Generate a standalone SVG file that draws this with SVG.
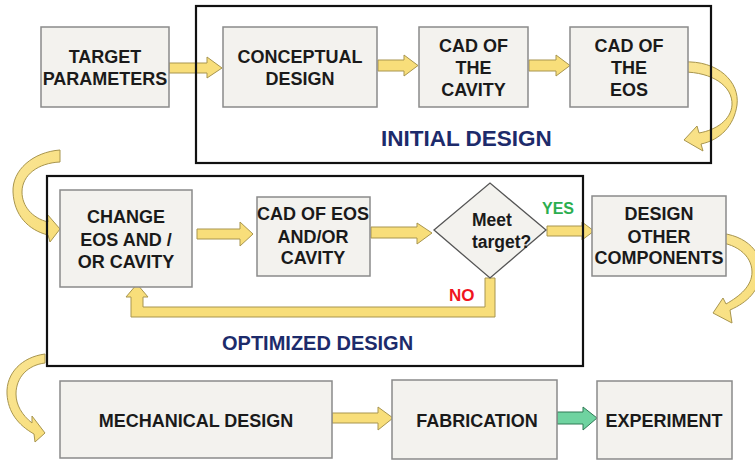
<svg xmlns="http://www.w3.org/2000/svg" width="755" height="461" viewBox="0 0 755 461">
<defs>
<style>
.box{fill:#F3F2EE;stroke:#8a8a8a;stroke-width:1.5}
.frame{fill:none;stroke:#111;stroke-width:2.2}
.t{font-family:"Liberation Sans",Arial,sans-serif;font-weight:bold;font-size:18px;fill:#1a1a1a;text-anchor:middle}
.big{font-family:"Liberation Sans",Arial,sans-serif;font-weight:bold;font-size:20px;fill:#1D2B6B}
.ya{fill:#F8DE7A;stroke:#A8954E;stroke-width:1}
.ga{fill:#6FD3A0;stroke:#2E7A55;stroke-width:1}
.curve{fill:url(#cg);stroke:#A8954E;stroke-width:1}
</style>
<linearGradient id="cg" x1="0" y1="0" x2="1" y2="1">
<stop offset="0" stop-color="#F8DE7A" stop-opacity="0.8"/>
<stop offset="1" stop-color="#F8DE7A" stop-opacity="1"/>
</linearGradient>
</defs>
<rect width="755" height="461" fill="#fff"/>

<g id="connectors">
<polygon class="ya" points="169,63 207,63 207,57 222,68 207,78 207,73 169,73"/>
<polygon class="ya" points="378,60 404,60 404,55 418,65.5 404,76 404,71 378,71"/>
<polygon class="ya" points="529,60 556,60 556,55 570,65.5 556,76 556,71 529,71"/>
<path class="curve" d="M683,62 C718,60 740,82 737,105 C734,126 720,140 701,144 L703,151 L684,140 L697,126 L699,133 C716,130 731,120 732,105 C733,86 712,72 683,72 Z"/>
<path class="curve" d="M60,150 C33,152 12,170 13,192 C14,215 28,230 48,235 L50,242 L60,229 L47,214 L48,222 C32,218 22,206 22,192 C22,175 38,163 60,162 Z"/>
<polygon class="ya" points="197,229 240,229 240,222 253,234 240,246 240,239 197,239"/>
<polygon class="ya" points="371,227 417,227 417,223 432,233 417,244 417,238 371,238"/>
<polygon class="ya" points="547,226 582,226 582,222 594,231 582,240 582,236 547,236"/>
<polygon class="ya" points="485,278 495,278 495,317 131,317 131,297 126,297 137,284 148,297 143,297 143,307 485,307"/>
<path class="curve" d="M712,233 C742,232 763,250 761,272 C759,291 748,302 730,310 L732,323 L713,313 L723,298 L726,304 C740,296 752,286 752,272 C752,255 735,242 712,242 Z"/>
<path class="curve" d="M45,354 C22,357 6,373 7,394 C8,412 18,425 34,434 L35,442 L45,433 L32,416 L32,423 C22,415 16,405 16,394 C16,377 28,365 45,363 Z"/>
<polygon class="ya" points="332,413 378,413 378,407 393,418 378,430 378,423 332,423"/>
<polygon class="ga" points="557,412 583,412 583,407 597,418 583,430 583,424 557,424"/>
</g>

<g id="initial-design">
<rect class="frame" x="196" y="6" width="515" height="157"/>
<text class="big" x="381" y="146" style="font-size:22.5px">INITIAL DESIGN</text>
</g>
<g id="optimized-design">
<rect class="frame" x="47" y="176" width="536" height="190"/>
<text class="big" x="222" y="350">OPTIMIZED DESIGN</text>
</g>

<g id="target">
<rect class="box" x="41" y="27" width="128" height="80"/>
<text class="t" x="105" y="63">TARGET</text>
<text class="t" x="105" y="85">PARAMETERS</text>
</g>
<g id="conceptual">
<rect class="box" x="223" y="27" width="154" height="80"/>
<text class="t" x="300" y="63">CONCEPTUAL</text>
<text class="t" x="300" y="85">DESIGN</text>
</g>
<g id="cad-cavity">
<rect class="box" x="419" y="27" width="109" height="80"/>
<text class="t" x="473.5" y="52">CAD OF</text>
<text class="t" x="473.5" y="74">THE</text>
<text class="t" x="473.5" y="96">CAVITY</text>
</g>
<g id="cad-eos">
<rect class="box" x="570" y="27" width="118" height="80"/>
<text class="t" x="629" y="52">CAD OF</text>
<text class="t" x="629" y="74">THE</text>
<text class="t" x="629" y="96">EOS</text>
</g>
<g id="change">
<rect class="box" x="60" y="190" width="132" height="97"/>
<text class="t" x="126" y="223">CHANGE</text>
<text class="t" x="126" y="246">EOS AND /</text>
<text class="t" x="126" y="268">OR CAVITY</text>
</g>
<g id="cad-eos-cavity">
<rect class="box" x="257" y="197" width="113" height="79"/>
<text class="t" x="313" y="220">CAD OF EOS</text>
<text class="t" x="313" y="243">AND/OR</text>
<text class="t" x="313" y="264">CAVITY</text>
</g>
<g id="meet-target">
<polygon points="434,230 490,183 546,230 490,278" fill="#F3F2EE" stroke="#555" stroke-width="1.3"/>
<text class="t" x="472" y="226" style="text-anchor:start;font-size:17.5px">Meet</text>
<text class="t" x="472" y="248" style="text-anchor:start;font-size:17.5px">target?</text>
<text class="t" x="542" y="214" style="text-anchor:start;font-size:16px;fill:#2BAE4F">YES</text>
<text class="t" x="449" y="301" style="text-anchor:start;font-size:17px;fill:#F0141E">NO</text>
</g>
<g id="design-other">
<rect class="box" x="592" y="196" width="134" height="80"/>
<text class="t" x="659" y="220">DESIGN</text>
<text class="t" x="659" y="243">OTHER</text>
<text class="t" x="659" y="264">COMPONENTS</text>
</g>
<g id="mechanical">
<rect class="box" x="60" y="381" width="272" height="77"/>
<text class="t" x="196" y="427">MECHANICAL DESIGN</text>
</g>
<g id="fabrication">
<rect class="box" x="392" y="380" width="165" height="79"/>
<text class="t" x="477" y="427">FABRICATION</text>
</g>
<g id="experiment">
<rect class="box" x="597" y="381" width="135" height="78"/>
<text class="t" x="664" y="427">EXPERIMENT</text>
</g>
</svg>
